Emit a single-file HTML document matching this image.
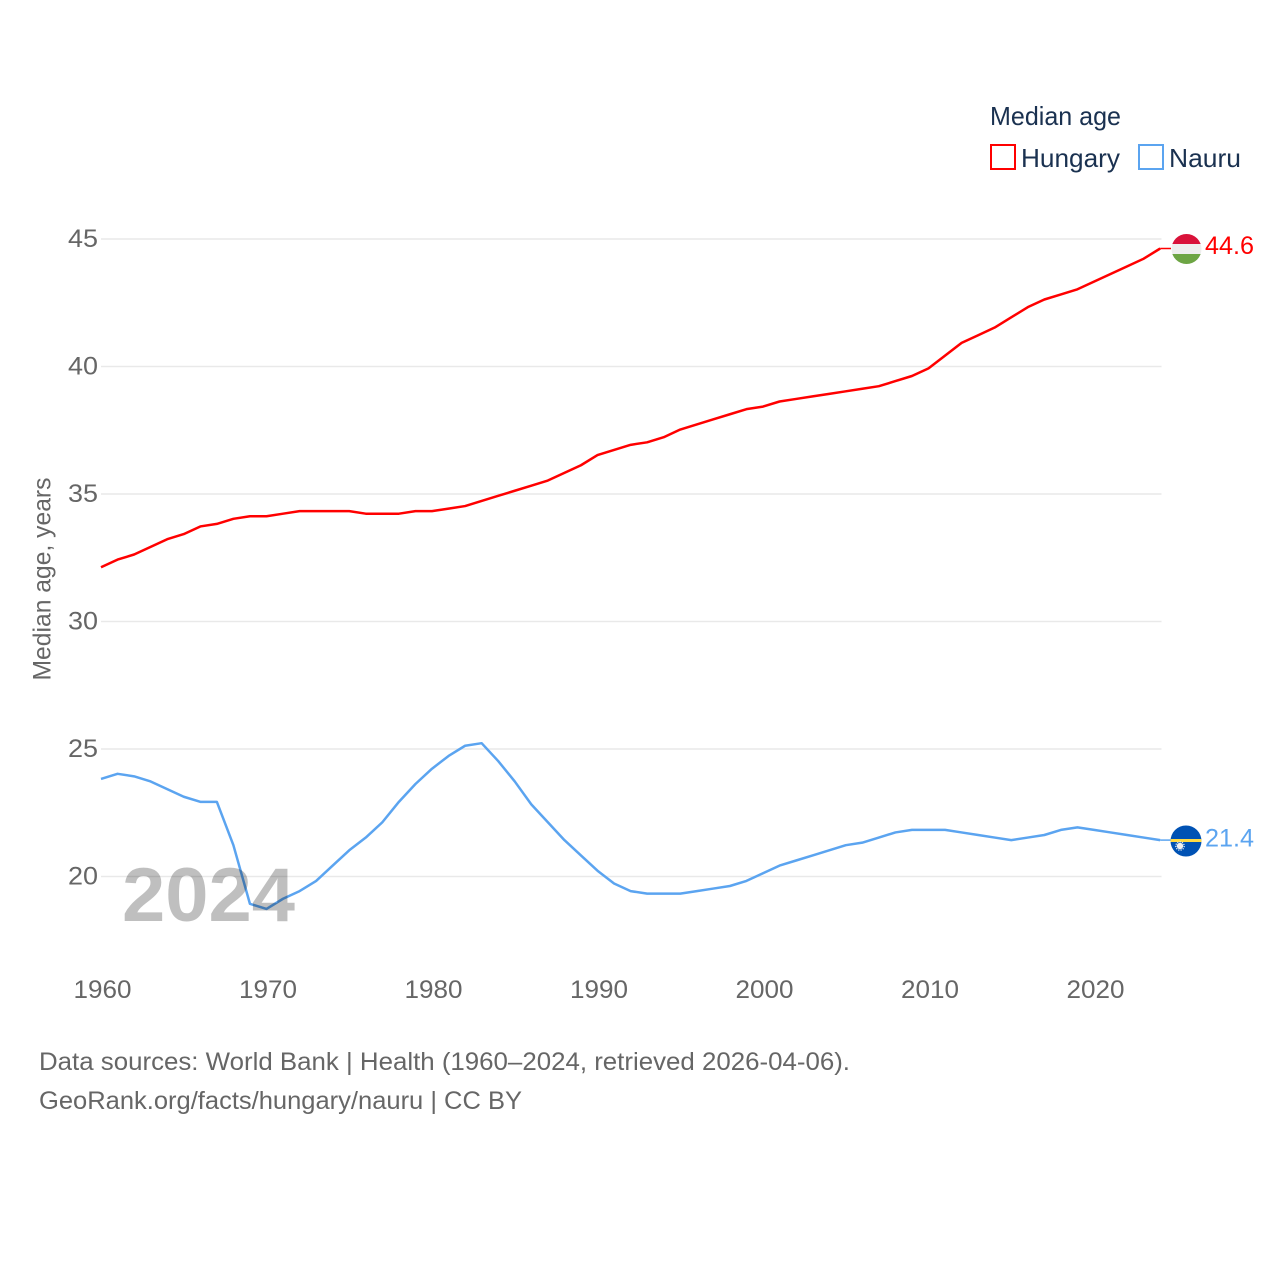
<!DOCTYPE html>
<html>
<head>
<meta charset="utf-8">
<title>Median age: Hungary and Nauru</title>
<style>
html,body{margin:0;padding:0;background:#fff;}
svg{display:block;font-family:"Liberation Sans",sans-serif;}
text{font-family:"Liberation Sans",sans-serif;}
</style>
</head>
<body>
<svg id="chart" xmlns="http://www.w3.org/2000/svg" width="1280" height="1280" viewBox="0 0 1280 1280">
  <rect x="0" y="0" width="1280" height="1280" fill="#ffffff"/>
  <g id="grid"></g>
  <g id="yticks"></g>
  <g id="xticks"></g>
  <text transform="translate(50.5,579) rotate(-90)" text-anchor="middle" font-size="25" fill="#666666" textLength="203" lengthAdjust="spacingAndGlyphs">Median age, years</text>
  <g id="series"></g>
  <text x="122" y="921" font-size="76" font-weight="700" fill="#000000" fill-opacity="0.25" textLength="173" lengthAdjust="spacingAndGlyphs">2024</text>

  <g>
    <clipPath id="hu-clip"><circle cx="1186.5" cy="249" r="15"/></clipPath>
    <g clip-path="url(#hu-clip)">
      <rect x="1170" y="233" width="34" height="11" fill="#d9123a"/>
      <rect x="1170" y="244" width="34" height="10" fill="#eeeeee"/>
      <rect x="1170" y="254" width="34" height="11" fill="#6da544"/>
    </g>
  </g>
  <g>
    <clipPath id="nr-clip"><circle cx="1186" cy="841" r="15.5"/></clipPath>
    <g clip-path="url(#nr-clip)">
      <rect x="1170" y="825" width="32" height="32" fill="#0052b4"/>
      <rect x="1170" y="839" width="32" height="3" fill="#ffda44"/>
      <circle cx="1180" cy="846" r="3.2" fill="#f0f0f0"/>
      <circle cx="1180" cy="846" r="4.2" fill="none" stroke="#f0f0f0" stroke-width="1.2" stroke-dasharray="1.2 1.2"/>
    </g>
  </g>
  <text id="label-hungary" x="1205" y="254" font-size="25" fill="#ff0000" textLength="49" lengthAdjust="spacingAndGlyphs"></text>
  <text id="label-nauru" x="1205" y="846.5" font-size="25" fill="#5ba4f0" textLength="49" lengthAdjust="spacingAndGlyphs"></text>

  <g>
    <text x="990" y="125" font-size="26" fill="#1a3150" textLength="131" lengthAdjust="spacingAndGlyphs">Median age</text>
    <g>
      <rect x="991" y="145" width="24" height="24" fill="#ffffff" stroke="#ff0000" stroke-width="2"/>
      <text x="1021" y="167" font-size="26" fill="#1a3150" textLength="99" lengthAdjust="spacingAndGlyphs">Hungary</text>
    </g>
    <g>
      <rect x="1139" y="145" width="24" height="24" fill="#ffffff" stroke="#5ba4f0" stroke-width="2"/>
      <text x="1169" y="167" font-size="26" fill="#1a3150" textLength="72" lengthAdjust="spacingAndGlyphs">Nauru</text>
    </g>
  </g>

  <text x="39" y="1070" font-size="25" fill="#666666" textLength="811" lengthAdjust="spacingAndGlyphs">Data sources: World Bank | Health (1960–2024, retrieved 2026-04-06).</text>
  <text x="39" y="1109" font-size="25" fill="#666666" textLength="483" lengthAdjust="spacingAndGlyphs">GeoRank.org/facts/hungary/nauru | CC BY</text>
</svg>
<script>
const years = [1960,1961,1962,1963,1964,1965,1966,1967,1968,1969,1970,1971,1972,1973,1974,1975,1976,1977,1978,1979,1980,1981,1982,1983,1984,1985,1986,1987,1988,1989,1990,1991,1992,1993,1994,1995,1996,1997,1998,1999,2000,2001,2002,2003,2004,2005,2006,2007,2008,2009,2010,2011,2012,2013,2014,2015,2016,2017,2018,2019,2020,2021,2022,2023,2024];
const hungaryValues = [32.1,32.4,32.6,32.9,33.2,33.4,33.7,33.8,34.0,34.1,34.1,34.2,34.3,34.3,34.3,34.3,34.2,34.2,34.2,34.3,34.3,34.4,34.5,34.7,34.9,35.1,35.3,35.5,35.8,36.1,36.5,36.7,36.9,37.0,37.2,37.5,37.7,37.9,38.1,38.3,38.4,38.6,38.7,38.8,38.9,39.0,39.1,39.2,39.4,39.6,39.9,40.4,40.9,41.2,41.5,41.9,42.3,42.6,42.8,43.0,43.3,43.6,43.9,44.2,44.6];
const nauruValues = [23.8,24.0,23.9,23.7,23.4,23.1,22.9,22.9,21.2,18.9,18.7,19.1,19.4,19.8,20.4,21.0,21.5,22.1,22.9,23.6,24.2,24.7,25.1,25.2,24.5,23.7,22.8,22.1,21.4,20.8,20.2,19.7,19.4,19.3,19.3,19.3,19.4,19.5,19.6,19.8,20.1,20.4,20.6,20.8,21.0,21.2,21.3,21.5,21.7,21.8,21.8,21.8,21.7,21.6,21.5,21.4,21.5,21.6,21.8,21.9,21.8,21.7,21.6,21.5,21.4];
const yTickValues = [20,25,30,35,40,45];
const xTickValues = [1960,1970,1980,1990,2000,2010,2020];

const NS = 'http://www.w3.org/2000/svg';
function xScale(year){ return 101 + (year - 1960) * 16.55; }
function yScale(value){ return 876.5 - (value - 20) * 25.5; }
function lineY(value){ return yScale(value) - 0.7; }
function make(tag, attrs, parent){
  const el = document.createElementNS(NS, tag);
  for (const k in attrs) el.setAttribute(k, attrs[k]);
  parent.appendChild(el);
  return el;
}

const grid = document.getElementById('grid');
const yticks = document.getElementById('yticks');
yTickValues.forEach(function(v){
  const line = make('line', {x1:xScale(1960), x2:1161.5, y1:yScale(v), y2:yScale(v), stroke:'#e9e9e9', 'stroke-width':1.5}, grid);
  
  
  const t = make('text', {x:98, y:yScale(v)+8, 'text-anchor':'end', 'font-size':25, fill:'#666666', textLength:30, lengthAdjust:'spacingAndGlyphs'}, yticks);
  
  
  t.textContent = String(v);
});

const xticks = document.getElementById('xticks');
xTickValues.forEach(function(y){
  const t = make('text', {x:xScale(y)+1.5, y:998, 'text-anchor':'middle', 'font-size':25, fill:'#666666', textLength:58, lengthAdjust:'spacingAndGlyphs'}, xticks);
  
  
  t.textContent = String(y);
});

function linePath(values){
  return values.map(function(v, i){
    return (i ? 'L' : 'M') + xScale(years[i]).toFixed(2) + ' ' + lineY(v).toFixed(2);
  }).join(' ');
}
const series = document.getElementById('series');

const hungaryLine = make('path', {d:linePath(hungaryValues), fill:'none', stroke:'#ff0000', 'stroke-width':2.5, 'stroke-linejoin':'round'}, series);



const nauruLine = make('path', {d:linePath(nauruValues), fill:'none', stroke:'#5ba4f0', 'stroke-width':2.5, 'stroke-linejoin':'round'}, series);



const lastHungary = hungaryValues[hungaryValues.length - 1];
const lastNauru = nauruValues[nauruValues.length - 1];
const lastYear = years[years.length - 1];

const hungaryLeader = make('line', {x1:xScale(lastYear), x2:1171, y1:lineY(lastHungary), y2:lineY(lastHungary), stroke:'#ff0000', 'stroke-width':1.5}, series);



const nauruLeader = make('line', {x1:xScale(lastYear), x2:1171, y1:lineY(lastNauru), y2:lineY(lastNauru), stroke:'#5ba4f0', 'stroke-width':1.5}, series);



document.getElementById('label-hungary').textContent = lastHungary.toFixed(1);
document.getElementById('label-nauru').textContent = lastNauru.toFixed(1);
</script>
</body>
</html>
